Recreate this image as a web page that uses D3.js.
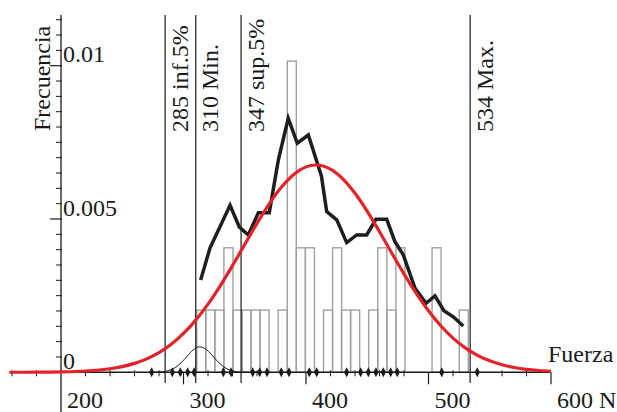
<!DOCTYPE html>
<html>
<head>
<meta charset="utf-8">
<script src="https://cdn.jsdelivr.net/npm/d3@7"></script>
<style>
  html, body { margin: 0; padding: 0; background: #fff; }
  svg { display: block; }
  text { font-family: "Liberation Serif", "Times New Roman", serif; fill: #1a1a1a; }
</style>
</head>
<body>
<script>
// ---------------- data ----------------
const xTickValues = [200, 300, 400, 500, 600];
const xTickLabels = ["200", "300", "400", "500", "600 N"];
const yTickValues = [0, 0.005, 0.01];
const yTickLabels = ["0", "0.005", "0.01"];

// histogram (non-empty bins): lower edge and density
const binWidth = 7.39;
const binLo = [310.8, 318.2, 325.6, 333.0, 340.4, 347.8, 355.1, 362.5, 377.3, 384.7, 392.1,
               399.5, 414.3, 421.7, 429.0, 436.4, 451.2, 458.6, 466.0, 473.4, 502.9, 525.1];
const binDensity = [0.00203, 0.00203, 0.00203, 0.00406, 0.00203, 0.00203, 0.00203, 0.00203, 0.00203, 0.01015, 0.00406,
                    0.00406, 0.00203, 0.00406, 0.00203, 0.00203, 0.00203, 0.00406, 0.00203, 0.00406, 0.00406, 0.00203];

// thick black empirical curve
const empX = [314.0, 321.6, 338.0, 345.5, 352.9, 361.1, 370.0, 377.4, 385.5, 392.9, 401.9, 412.6, 416.9,
              425.1, 433.2, 441.4, 449.5, 457.1, 465.9, 472.6, 479.4, 489.0, 498.0, 505.3, 512.6, 520.2, 528.4];
const empY = [0.00301, 0.00405, 0.00545, 0.00474, 0.00448, 0.00520, 0.00520, 0.00692, 0.00828, 0.00747, 0.00774, 0.00640, 0.00524,
              0.00497, 0.00423, 0.00448, 0.00448, 0.00499, 0.00499, 0.00426, 0.00383, 0.00274, 0.00225, 0.00249, 0.00201, 0.00181, 0.00151];

// red fitted curve
const fitX = [158, 180, 200, 220, 240, 250, 260, 270, 280, 290, 300, 310, 320, 330, 340, 350, 360, 370, 380, 390, 400, 408,
              420, 430, 440, 450, 460, 470, 480, 490, 500, 510, 520, 530, 540, 550, 560, 570, 580, 590, 600];
const fitY = [0.000001, 0.000004, 0.0000135, 0.000042, 0.000117, 0.000187, 0.000291, 0.000439, 0.000643, 0.000915, 0.001266,
              0.001702, 0.002224, 0.002822, 0.003480, 0.004171, 0.004857, 0.005496, 0.006042, 0.006454, 0.006700, 0.006762,
              0.006624, 0.006308, 0.005837, 0.005249, 0.004586, 0.003893, 0.003211, 0.002574, 0.002005, 0.001517, 0.001116,
              0.000797, 0.000554, 0.000373, 0.000245, 0.000156, 0.000097, 0.000058, 0.000034];

// thin black bump (distribution of minimum)
const minX = [273, 283, 288, 293, 298, 303, 308, 313, 318, 323, 328, 333, 338, 343, 348, 353, 363];
const minY = [0.000001, 0.000018, 0.000057, 0.000146, 0.000308, 0.000526, 0.000732, 0.00083, 0.000763, 0.000572,
              0.000348, 0.000172, 0.00007, 0.000023, 0.000006, 0.000001, 0];

// sample points marked on the axis
const samplePts = [274.0, 290.9, 297.4, 303.4, 308.7, 332.5, 338.8, 356.5, 362.2, 368.2, 379.8, 386.1,
                   402.7, 408.7, 433.2, 444.6, 450.9, 457.1, 463.1, 469.1, 474.5, 510.8, 539.8];

// reference lines
const refValues = [285, 310, 347, 534];
const refLabels = ["285 inf.5%", "310 Min.", "347 sup.5%", "534 Max."];

const xMinorTicks = [160, 180, 220, 240, 260, 280, 320, 340, 360, 380, 420, 440, 460, 480, 520, 540, 560, 580];

// ---------------- drawing ----------------
const W = 617, H = 412;
const svg = d3.select("body").append("svg").attr("width", W).attr("height", H);
svg.append("rect").attr("width", W).attr("height", H).attr("fill", "#fff");

const x = d3.scaleLinear().domain([200, 600]).range([61, 551]);
const y = d3.scaleLinear().domain([0, 0.01]).range([372.3, 65.7]);

// histogram bars
svg.append("g").selectAll("rect").data(binLo).join("rect")
  .attr("x", d => x(d))
  .attr("width", d => x(d + binWidth) - x(d))
  .attr("y", (d, i) => y(binDensity[i]))
  .attr("height", (d, i) => y(0) - y(binDensity[i]))
  .attr("fill", "none")
  .attr("stroke", "#a0a0a0")
  .attr("stroke-width", 1.4);

// reference vertical lines
svg.append("g").selectAll("line").data(refValues).join("line")
  .attr("x1", d => x(d)).attr("x2", d => x(d))
  .attr("y1", 15).attr("y2", 383)
  .attr("stroke", "#1a1a1a").attr("stroke-width", 1.2);

svg.append("g").selectAll("text").data(refValues).join("text")
  .attr("transform", d => `translate(${x(d) + 22.5},132) rotate(-90)`)
  .attr("font-size", 24)
  .text((d, i) => refLabels[i]);

// thick black empirical line
const empLine = d3.line().x(d => x(d[0])).y(d => y(d[1]));
svg.append("path")
  .datum(empX.map((v, i) => [v, empY[i]]))
  .attr("d", empLine)
  .attr("fill", "none").attr("stroke", "#1e1e1e").attr("stroke-width", 3.5)
  .attr("stroke-linejoin", "miter");

// thin min curve
const smooth = d3.line().x(d => x(d[0])).y(d => y(d[1])).curve(d3.curveMonotoneX);
svg.append("path")
  .datum(minX.map((v, i) => [v, minY[i]]))
  .attr("d", smooth)
  .attr("fill", "none").attr("stroke", "#1a1a1a").attr("stroke-width", 1);

// axes
const gx = svg.append("g");
gx.append("line").attr("x1", x(158)).attr("x2", x(600)).attr("y1", y(0)).attr("y2", y(0))
  .attr("stroke", "#1a1a1a").attr("stroke-width", 1.5);
gx.selectAll("line.maj").data(xTickValues.slice(1)).join("line").attr("class", "maj")
  .attr("x1", d => x(d)).attr("x2", d => x(d)).attr("y1", y(0)).attr("y2", y(0) + 12)
  .attr("stroke", "#1a1a1a").attr("stroke-width", 1.2);
gx.selectAll("line.min").data(xMinorTicks).join("line").attr("class", "min")
  .attr("x1", d => x(d)).attr("x2", d => x(d)).attr("y1", y(0) - 2).attr("y2", y(0) + 4)
  .attr("stroke", "#1a1a1a").attr("stroke-width", 1);
gx.selectAll("text").data(xTickValues).join("text")
  .attr("x", d => x(d) + 6).attr("y", 408)
  .attr("font-size", 24)
  .text((d, i) => xTickLabels[i]);

const gy = svg.append("g");
gy.append("line").attr("x1", x(200)).attr("x2", x(200)).attr("y1", 15).attr("y2", H)
  .attr("stroke", "#1a1a1a").attr("stroke-width", 1.3);
const yMinor = d3.range(1, 24).map(i => i * 0.0005).filter(v => Math.abs(v - 0.005) > 1e-9 && Math.abs(v - 0.01) > 1e-9);
gy.selectAll("line.min").data(yMinor).join("line").attr("class", "min")
  .attr("x1", x(200) - 5).attr("x2", x(200) + 1).attr("y1", d => y(d)).attr("y2", d => y(d))
  .attr("stroke", "#1a1a1a").attr("stroke-width", 1);
gy.selectAll("line.maj").data(yTickValues.slice(1)).join("line").attr("class", "maj")
  .attr("x1", x(200) - 11).attr("x2", x(200) + 1).attr("y1", d => y(d)).attr("y2", d => y(d))
  .attr("stroke", "#1a1a1a").attr("stroke-width", 1.2);
gy.selectAll("text").data(yTickValues).join("text")
  .attr("x", x(200) + 2).attr("y", d => y(d) - 3.5)
  .attr("font-size", 24)
  .text((d, i) => yTickLabels[i]);

// red fitted curve
svg.append("path")
  .datum(fitX.map((v, i) => [v, fitY[i]]))
  .attr("d", smooth)
  .attr("fill", "none").attr("stroke", "#e3222a").attr("stroke-width", 3.2);

// sample diamonds (tall, narrow)
svg.append("g").selectAll("path").data(samplePts).join("path")
  .attr("transform", d => `translate(${x(d)},${y(0)})`)
  .attr("d", "M0,-5 L2.6,0 L0,5 L-2.6,0 Z")
  .attr("fill", "#1a1a1a");

// axis titles
svg.append("text").attr("transform", "translate(50,131) rotate(-90)")
  .attr("font-size", 24).text("Frecuencia");
svg.append("text").attr("x", 548).attr("y", 362)
  .attr("font-size", 24).text("Fuerza");
</script>
</body>
</html>
